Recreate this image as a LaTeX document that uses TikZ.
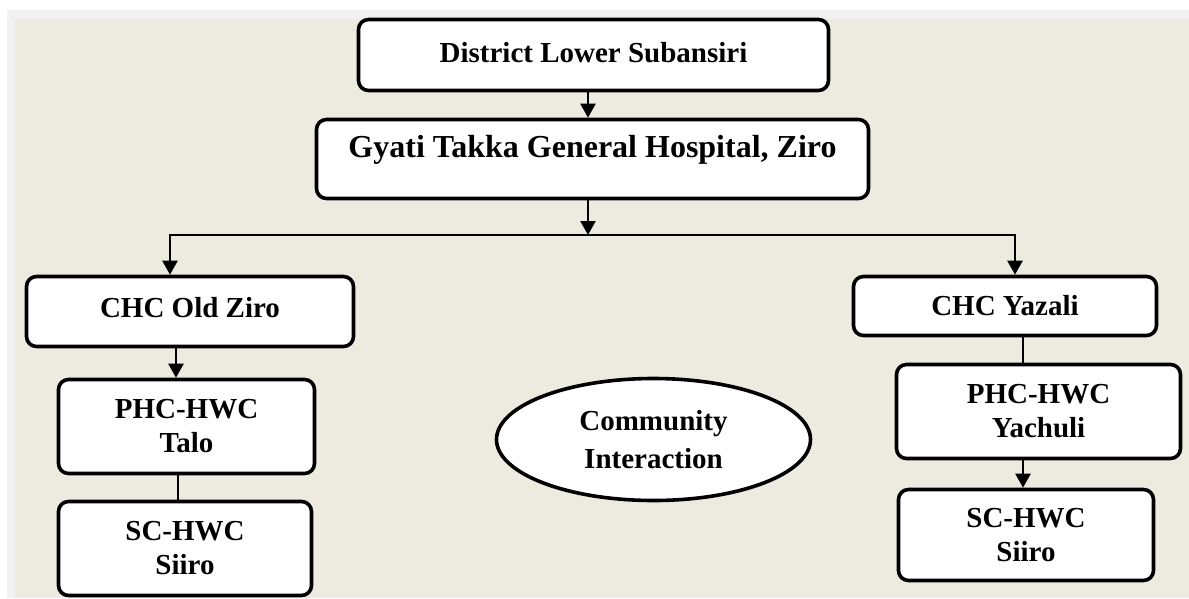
\documentclass[tikz,border=0pt]{standalone}
\usepackage{fontspec}
\setmainfont{Liberation Serif}
\usetikzlibrary{arrows.meta,shapes.geometric}
\definecolor{beige}{RGB}{237,234,224}
\definecolor{bandgray}{RGB}{241,241,241}
\tikzset{
  box/.style={draw=black, line width=3.6pt, fill=white, rounded corners=10pt,
    align=center, inner sep=0pt, font=\bfseries\fontsize{29}{34}\selectfont},
  oval/.style={draw=black, line width=3.6pt, fill=white, ellipse,
    align=center, inner sep=0pt, font=\bfseries\fontsize{29}{38}\selectfont},
  conn/.style={line width=2.4pt, draw=black},
  arr/.style={conn, -{Triangle[length=14pt,width=15pt]}}
}
\begin{document}
\begin{tikzpicture}[x=1pt,y=-1pt]
\useasboundingbox (0,0) rectangle (1189,598);
\fill[white] (0,0) rectangle (1189,598);
\fill[bandgray] (7,10) rectangle (1189,598);
\fill[beige] (15,19) rectangle (1189,598);

\node[box, minimum width=470pt, minimum height=71pt, text height=20pt, text depth=6pt] (dist) at (593.5,55) {District Lower Subansiri};
\node[box, minimum width=552pt, minimum height=79pt, text height=22pt, text depth=26pt,
  font=\bfseries\fontsize{32}{36}\selectfont] (gyati) at (592.5,159) {Gyati Takka General Hospital, Ziro};
\node[box, minimum width=327pt, minimum height=70pt, text height=20pt, text depth=9pt] (oldziro) at (190,311.5) {CHC Old Ziro};
\node[box, minimum width=303pt, minimum height=59pt] (yazali) at (1005,306) {CHC Yazali};
\node[box, minimum width=256pt, minimum height=94pt] (talo) at (186.5,426.5) {PHC-HWC\\Talo};
\node[box, minimum width=253pt, minimum height=94pt] (sctalo) at (185,548.5) {SC-HWC\\Siiro};
\node[box, minimum width=284pt, minimum height=94pt] (yachuli) at (1038.5,411.5) {PHC-HWC\\Yachuli};
\node[box, minimum width=255pt, minimum height=91pt] (scyach) at (1026,535) {SC-HWC\\Siiro};
\node[oval, minimum width=314pt, minimum height=122pt] (comm) at (653.5,439.5) {Community\\Interaction};

% connectors
\draw[arr] ([xshift=-5.5pt]dist.south) -- ([xshift=-5.5pt]dist.south |- gyati.north);
\coordinate (jm) at (588,235);
\draw[arr] ([xshift=-4.5pt]gyati.south) -- (jm);
\coordinate (jl) at (170,235);
\coordinate (jr) at (1015,235);
\draw[arr] (jm) -- (jl) -- (jl |- oldziro.north);
\draw[arr] (jm) -- (jr) -- (jr |- yazali.north);
\draw[arr] ([xshift=-14pt]oldziro.south) -- ([xshift=-14pt]oldziro.south |- talo.north);
\draw[conn] ([xshift=-8.5pt]talo.south) -- ([xshift=-8.5pt]talo.south |- sctalo.north);
\draw[conn] ([xshift=18pt]yazali.south) -- ([xshift=18pt]yazali.south |- yachuli.north);
\draw[arr] ([xshift=-15.5pt]yachuli.south) -- ([xshift=-15.5pt]yachuli.south |- scyach.north);
\end{tikzpicture}
\end{document}
